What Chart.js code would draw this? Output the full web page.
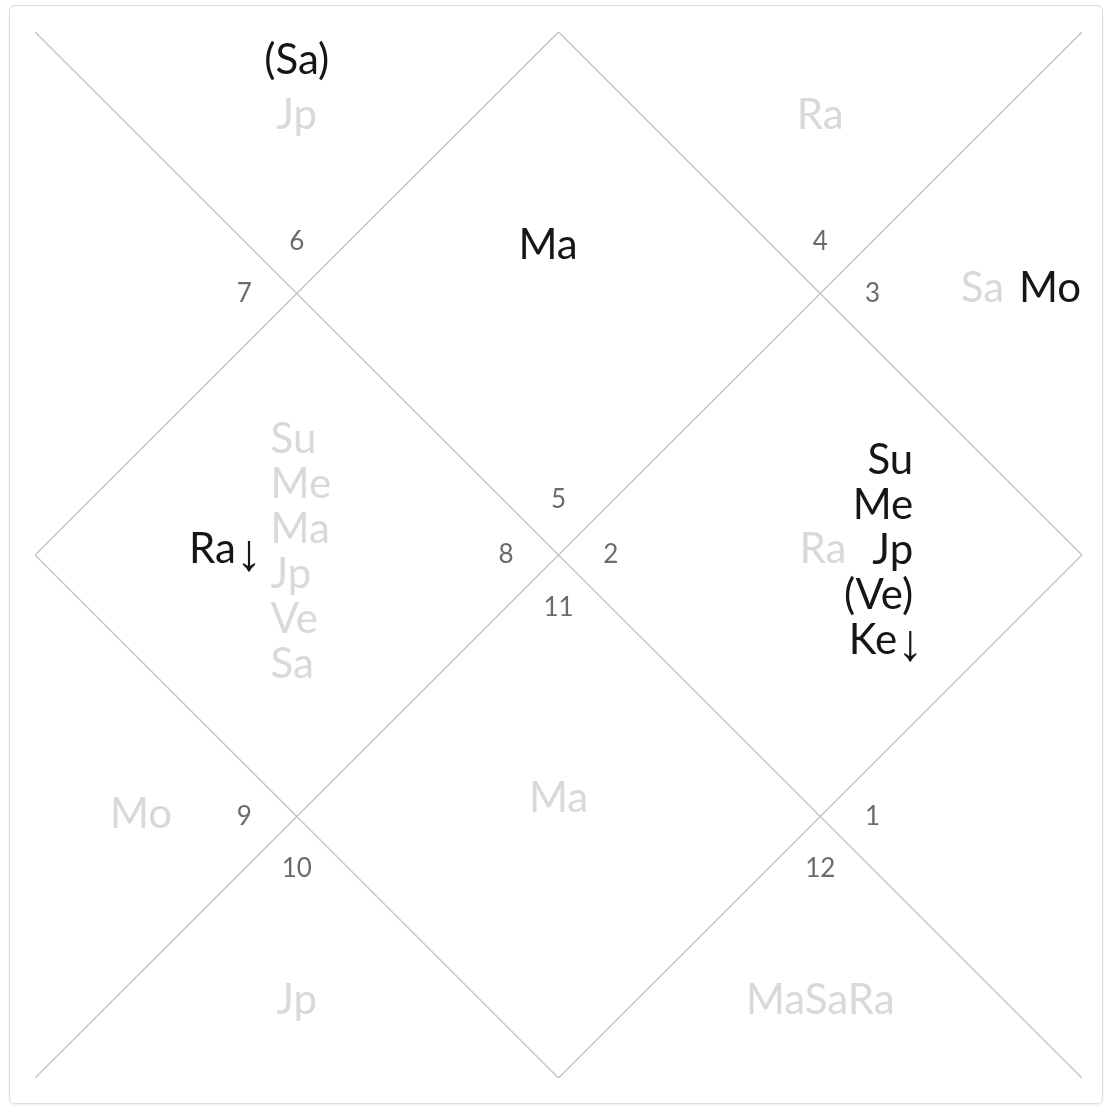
<!DOCTYPE html>
<html>
<head>
<meta charset="utf-8">
<script src="https://cdn.jsdelivr.net/npm/chart.js@4.4.1/dist/chart.umd.min.js"></script>
<style>
  html, body { margin: 0; padding: 0; background: #fff; }
  body { width: 1110px; height: 1109px; position: relative; overflow: hidden; }
  .box {
    position: absolute; left: 9px; top: 5px; width: 1092px; height: 1097px;
    border: 1px solid #dcdcdc; border-radius: 6px;
    box-shadow: 0 1px 2px rgba(0,0,0,0.08);
  }
  canvas { position: absolute; left: 0; top: 0; }
</style>
</head>
<body>
<div class="box"></div>
<canvas id="chart" width="1110" height="1109"></canvas>
<script>
// Numeros de casa (rasi) en el orden de dibujo
const houseNums = ['6', '7', '4', '3', '5', '8', '2', '11', '9', '10', '1', '12'];

// Planetas principales (oscuros) por grupo
const mainPlanets = [
    ['(Sa)'],
    ['Ma'],
    ['Mo'],
    ['Ra↓'],
    ['Su', 'Me', 'Jp', '(Ve)', 'Ke↓']
];

// Planetas secundarios (claros) por grupo
const ghostPlanets = [
    ['Jp'],
    ['Ra'],
    ['Sa'],
    ['Su', 'Me', 'Ma', 'Jp', 'Ve', 'Sa'],
    ['Ra'],
    ['Mo'],
    ['Ma'],
    ['Jp'],
    ['MaSaRa']
];

// Posiciones (unidades de la escala 0..4)
const numPos = [[1, 3.2], [0.8, 3.0], [3, 3.2], [3.2, 3.0], [2, 2.21], [1.8, 2.0],
                [2.2, 2.0], [2, 1.8], [0.8, 1.0], [1, 0.8], [3.2, 1.0], [3, 0.8]];
const mainPos = [
    { x: 1.0, y: 3.89, align: 'center' },
    { x: 1.96, y: 3.185, align: 'center' },
    { x: 3.878, y: 3.02, align: 'center' },
    { x: 0.829, y: 2.02, align: 'right' },
    { x: 3.355, y: 2.363, align: 'right' }
];
const ghostPos = [
    { x: 1.0, y: 3.68, align: 'center' },
    { x: 3.0, y: 3.68, align: 'center' },
    { x: 3.62, y: 3.02, align: 'center' },
    { x: 0.9, y: 2.44, align: 'left' },
    { x: 3.01, y: 2.02, align: 'center' },
    { x: 0.405, y: 1.006, align: 'center' },
    { x: 2.0, y: 1.07, align: 'center' },
    { x: 1.0, y: 0.298, align: 'center' },
    { x: 3.0, y: 0.298, align: 'center' }
];
const lineStep = 0.172;
const arrowHang = 10; // la flecha sobresale un poco a la derecha

// Lineas del cuadro norte
const diag1 = [{ x: 0, y: 4 }, { x: 4, y: 0 }];
const diag2 = [{ x: 0, y: 0 }, { x: 4, y: 4 }];
const diamond = [{ x: 2, y: 4 }, { x: 4, y: 2 }, { x: 2, y: 0 }, { x: 0, y: 2 }, { x: 2, y: 4 }];

const FONT = 'Lato, "Open Sans", sans-serif';
const PLANET_FONT = '42px ' + FONT;
const ARROW_FONT = '52px "Liberation Sans", Arial, sans-serif';

// Dibuja un texto; la flecha (retrogrado) va aparte, mas fina
function drawText(ctx, t, px, py, align) {
    const arrow = t.endsWith('↓');
    const base = arrow ? t.slice(0, -1) : t;
    ctx.font = ARROW_FONT;
    const aw = arrow ? ctx.measureText('↓').width : 0;
    ctx.font = PLANET_FONT;
    const w = ctx.measureText(base).width;
    let sx = px;
    if (align === 'center') sx = px - w / 2;
    else if (align === 'right') sx = arrow ? px + arrowHang - w - aw : px - w;
    ctx.textAlign = 'left';
    ctx.fillText(base, sx, py);
    if (arrow) {
        ctx.font = ARROW_FONT;
        ctx.fillText('↓', sx + w, py + 6);
        ctx.font = PLANET_FONT;
    }
}

// Plugin para dibujar los textos usando las escalas
const labelPlugin = {
    id: 'chartLabels',
    afterDatasetsDraw(chart) {
        const { ctx, scales: { x, y } } = chart;
        ctx.save();
        ctx.textBaseline = 'middle';

        ctx.font = '26px ' + FONT;
        ctx.fillStyle = '#6b6b6b';
        ctx.textAlign = 'center';
        houseNums.forEach((n, i) => {
            ctx.fillText(n, x.getPixelForValue(numPos[i][0]), y.getPixelForValue(numPos[i][1]));
        });

        const drawGroup = (groups, pos, color) => {
            ctx.fillStyle = color;
            groups.forEach((list, i) => {
                list.forEach((t, j) => {
                    drawText(ctx, t, x.getPixelForValue(pos[i].x),
                        y.getPixelForValue(pos[i].y - j * lineStep), pos[i].align);
                });
            });
        };
        drawGroup(ghostPlanets, ghostPos, '#d9d9d9');
        drawGroup(mainPlanets, mainPos, '#161616');
        ctx.restore();
    }
};

const lineStyle = {
    showLine: true,
    pointRadius: 0,
    borderColor: '#c6c6c6',
    borderWidth: 1.5,
    fill: false
};

Promise.all([document.fonts.load(PLANET_FONT), document.fonts.load(ARROW_FONT)]).then(() => {
    const ctx = document.getElementById('chart').getContext('2d');
    new Chart(ctx, {
        type: 'scatter',
        data: {
            datasets: [
                { data: diag1, ...lineStyle },
                { data: diag2, ...lineStyle },
                { data: diamond, ...lineStyle }
            ]
        },
        options: {
            responsive: false,
            animation: false,
            layout: { padding: { left: 35, top: 32, right: 28, bottom: 31 } },
            plugins: { legend: { display: false }, tooltip: { enabled: false } },
            scales: {
                x: { type: 'linear', min: 0, max: 4, display: false },
                y: { type: 'linear', min: 0, max: 4, display: false }
            }
        },
        plugins: [labelPlugin]
    });
});
</script>
</body>
</html>
